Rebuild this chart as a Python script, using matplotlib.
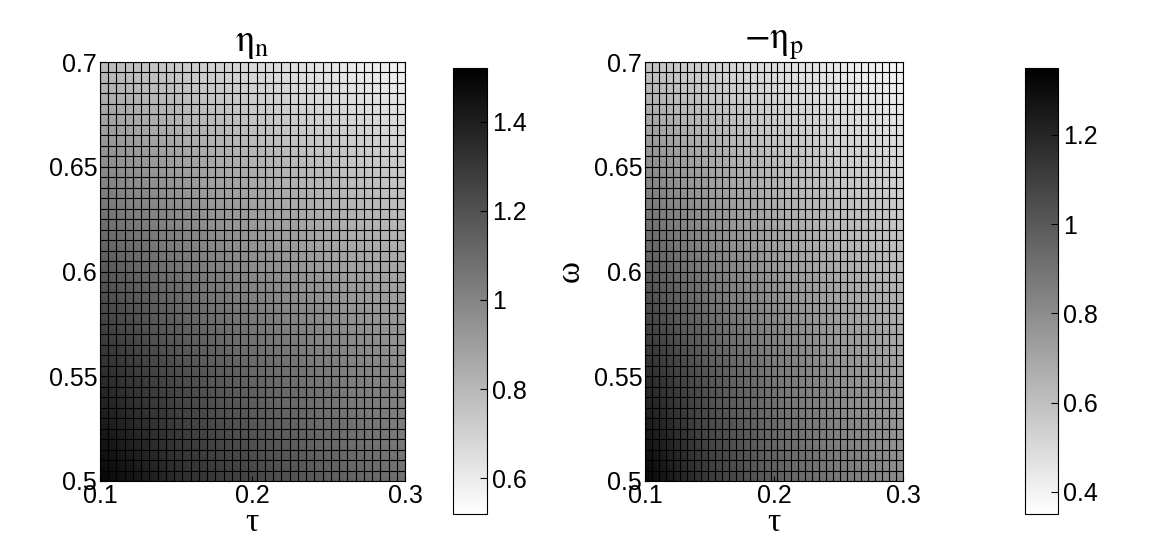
import numpy as np
import matplotlib
matplotlib.use("Agg")
import matplotlib.pyplot as plt

TAU = [0.1, 0.15, 0.2, 0.25, 0.3]
OMEGA = [0.5, 0.55, 0.6, 0.65, 0.7]
# rows: omega, cols: tau
ETA_N = [[1.50, 1.35, 1.25, 1.15, 1.08],
         [1.35, 1.22, 1.12, 1.04, 0.98],
         [1.18, 1.07, 0.98, 0.91, 0.86],
         [0.98, 0.90, 0.83, 0.77, 0.72],
         [0.78, 0.72, 0.66, 0.61, 0.56]]
NEG_ETA_P = [[1.33, 1.12, 0.98, 0.88, 0.80],
             [1.18, 1.00, 0.88, 0.79, 0.72],
             [1.00, 0.86, 0.76, 0.68, 0.62],
             [0.80, 0.70, 0.62, 0.56, 0.51],
             [0.58, 0.52, 0.47, 0.43, 0.38]]
CLIM_N = (0.52, 1.52)
CLIM_P = (0.35, 1.35)
TICKS_N = [0.6, 0.8, 1, 1.2, 1.4]
TICKS_P = [0.4, 0.6, 0.8, 1, 1.2]

plt.rcParams.update({"font.family": "Liberation Sans", "font.size": 15,
                     "mathtext.fontset": "stix",
                     "xtick.direction": "in", "ytick.direction": "in"})
W, H = 1153, 554
fig = plt.figure(figsize=(W / 100, H / 100), dpi=100)


def px(x0, y0, x1, y1):
    return [x0 / W, 1 - y1 / H, (x1 - x0) / W, (y1 - y0) / H]


def panel(axr, cbr, Z, clim, ticks, title, ylab):
    ax = fig.add_axes(px(*axr))
    m = ax.pcolormesh(TAU, OMEGA, np.array(Z), shading="gouraud",
                      cmap="gray_r", vmin=clim[0], vmax=clim[1])
    for x in np.linspace(0.1, 0.3, 38):
        ax.axvline(x, color="black", lw=0.8)
    for y in np.linspace(0.5, 0.7, 41):
        ax.axhline(y, color="black", lw=0.8)
    ax.set_xlim(0.1, 0.3); ax.set_ylim(0.5, 0.7)
    ax.set_xticks([0.1, 0.2, 0.3]); ax.set_xticklabels(["0.1", "0.2", "0.3"])
    ax.set_yticks([0.5, 0.55, 0.6, 0.65, 0.7])
    ax.set_yticklabels(["0.5", "0.55", "0.6", "0.65", "0.7"])
    ax.tick_params(labelsize=18, pad=2)
    ax.set_xlabel("τ", family="Liberation Serif", fontsize=24, labelpad=0)
    ax.set_ylabel("ω", family="Liberation Serif", fontsize=24, labelpad=ylab)
    ax.set_title(title, fontsize=27, pad=8)
    cax = fig.add_axes(px(*cbr))
    cb = fig.colorbar(m, cax=cax, ticks=ticks)
    cb.ax.set_yticklabels([f"{t:g}" for t in ticks])
    cb.ax.tick_params(labelsize=18, direction="in", length=5)


panel((100, 62, 405, 481), (453, 68, 487, 514), ETA_N, CLIM_N, TICKS_N,
      r"$\mathrm{\eta}_{\mathrm{n}}$", 40)
panel((645, 62, 903, 481), (1025, 68, 1058, 514), NEG_ETA_P, CLIM_P, TICKS_P,
      r"$-\mathrm{\eta}_{\mathrm{p}}$", 6)
fig.savefig("out.png", dpi=100, facecolor="white")
